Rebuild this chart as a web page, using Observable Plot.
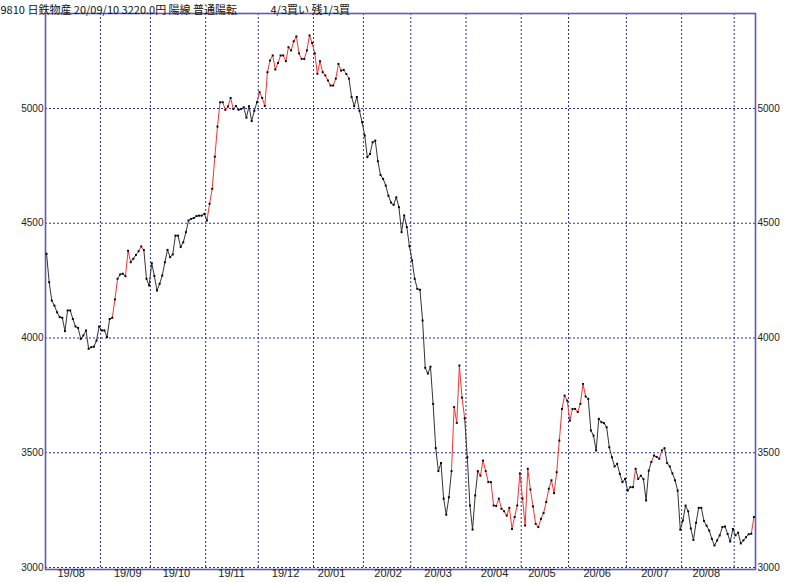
<!DOCTYPE html>
<html><head><meta charset="utf-8">
<script src="https://cdn.jsdelivr.net/npm/d3@7"></script>
<script src="https://cdn.jsdelivr.net/npm/@observablehq/plot@0.6"></script>
<style>body{margin:0;background:#fff;}</style>
</head><body><div id="chart"></div>
<script>
// ---- data ----
const titleLeft = "9810 日鉄物産 20/09/10 3220.0円 陽線 普通陽転";
const titleRight = "4/3買い 残1/3買";
// daily closes, 2019-08-01 .. 2020-09-10 (trading days)
const closes = [
4367,4243,4163,4141,4112,4091,4088,4030,4120,4120,
4083,4050,4044,3996,4011,4033,3953,3960,3962,3989,
4050,4033,4033,4004,4083,4088,4168,4258,4277,4280,
4269,4380,4330,4345,4362,4378,4399,4383,4258,4229,
4326,4270,4207,4236,4272,4330,4384,4352,4364,4446,
4446,4396,4417,4461,4512,4519,4523,4531,4533,4533,
4541,4512,4585,4650,4790,4921,5027,5027,4994,5009,
5046,4998,5011,4994,4998,5005,4960,5010,4945,4990,
5027,5071,5046,5011,5158,5209,5231,5170,5198,5231,
5231,5206,5267,5253,5293,5314,5240,5216,5216,5253,
5318,5285,5240,5151,5206,5158,5144,5122,5100,5100,
5130,5194,5165,5168,5150,5130,5050,5010,5050,4990,
4940,4882,4788,4802,4853,4860,4770,4710,4693,4664,
4620,4590,4580,4613,4570,4461,4534,4483,4400,4338,
4258,4214,4210,4076,3870,3845,3875,3713,3520,3420,
3455,3300,3230,3306,3420,3699,3630,3880,3740,3650,
3480,3270,3165,3314,3420,3400,3466,3420,3372,3372,
3270,3268,3300,3256,3245,3226,3260,3168,3220,3270,
3410,3300,3183,3430,3340,3266,3190,3176,3212,3237,
3285,3343,3380,3324,3415,3553,3691,3749,3727,3640,
3691,3691,3677,3713,3800,3745,3735,3597,3575,3510,
3648,3633,3629,3611,3524,3480,3440,3452,3408,3372,
3386,3335,3350,3350,3430,3386,3400,3385,3292,3422,
3460,3488,3482,3474,3510,3520,3455,3440,3410,3380,
3335,3165,3205,3270,3245,3170,3120,3195,3260,3260,
3203,3182,3161,3125,3096,3118,3140,3176,3179,3146,
3113,3168,3140,3152,3105,3118,3132,3145,3147,3220
];
// trading days per month: 19/08 .. 20/09
const monthDays = [21,19,21,20,21,19,18,21,21,18,22,21,20,8];
const monthLabels = ["19/08","19/09","19/10","19/11","19/12","20/01","20/02","20/03","20/04","20/05","20/06","20/07","20/08"];
// trading-day index of the 15th of each labelled month
const midMonthDay = [9,30.5,49,70,90.5,108,129.5,148.5,170,188,209,231,250.5];
const yTicks = [3000,3500,4000,4500,5000];
// runs of the up-trend (red) state, as [from index, to index]
const redRuns = [[25,27],[30,32],[34,37],[61,72],[80,115],[154,159],[164,206],[223,224],[230,231],[233,235],[268,269]];

// ---- derived ----
const pts = closes.map((v, i) => ({i, v}));
const segs = closes.slice(1).map((v, k) => ({
  x1: k, y1: closes[k], x2: k + 1, y2: v,
  red: redRuns.some(([a, b]) => k >= a && k < b)
}));
let cum = 0;
const bounds = monthDays.slice(0, -1).map(d => (cum += d) - 0.5);
const n = closes.length;

const grid = "#2b2ba6";
const plot = Plot.plot({
  width: 800, height: 582,
  marginLeft: 45, marginRight: 45, marginTop: 13, marginBottom: 13,
  x: {domain: [-0.4, n - 0.4], axis: null},
  y: {domain: [2991.3, 5413.8], axis: null},
  style: {background: "#fff", fontFamily: "'Liberation Sans', Arial, sans-serif", color: "#222"},
  marks: [
    Plot.ruleY(yTicks, {stroke: grid, strokeDasharray: "2,2", strokeWidth: 1}),
    Plot.ruleX(bounds, {stroke: grid, strokeDasharray: "2,2", strokeWidth: 1}),
    Plot.frame({stroke: "#5c5cb8", strokeWidth: 1.6}),
    Plot.link(segs.filter(s => !s.red), {x1: "x1", y1: "y1", x2: "x2", y2: "y2", stroke: "#333", strokeWidth: 1}),
    Plot.link(segs.filter(s => s.red), {x1: "x1", y1: "y1", x2: "x2", y2: "y2", stroke: "#ff3030", strokeWidth: 1}),
    Plot.dot(pts, {x: "i", y: "v", symbol: "square", r: 1.1, fill: "#000", stroke: null}),
    Plot.text(yTicks, {x: -0.4, y: d => d, text: d => String(d), textAnchor: "end", dx: -2, fontSize: 10, fill: "#222"}),
    Plot.text(yTicks, {x: n - 0.4, y: d => d, text: d => String(d), textAnchor: "start", dx: 2, fontSize: 10, fill: "#222"}),
    Plot.text(monthLabels, {x: (d, k) => midMonthDay[k], frameAnchor: "bottom", text: d => d, dy: 7, dx: 1, fontSize: 11, fill: "#222"}),
    Plot.text([titleLeft], {frameAnchor: "top-left", text: d => d, textAnchor: "start", dx: -45, dy: -7, fontSize: 11, fill: "#111", fontFamily: "'Noto Sans CJK JP', sans-serif"}),
    Plot.text([titleRight], {frameAnchor: "top-left", text: d => d, textAnchor: "start", dx: 225, dy: -7, fontSize: 11, fill: "#111", fontFamily: "'Noto Sans CJK JP', sans-serif"})
  ]
});
document.getElementById("chart").appendChild(plot);
</script>
</body></html>
